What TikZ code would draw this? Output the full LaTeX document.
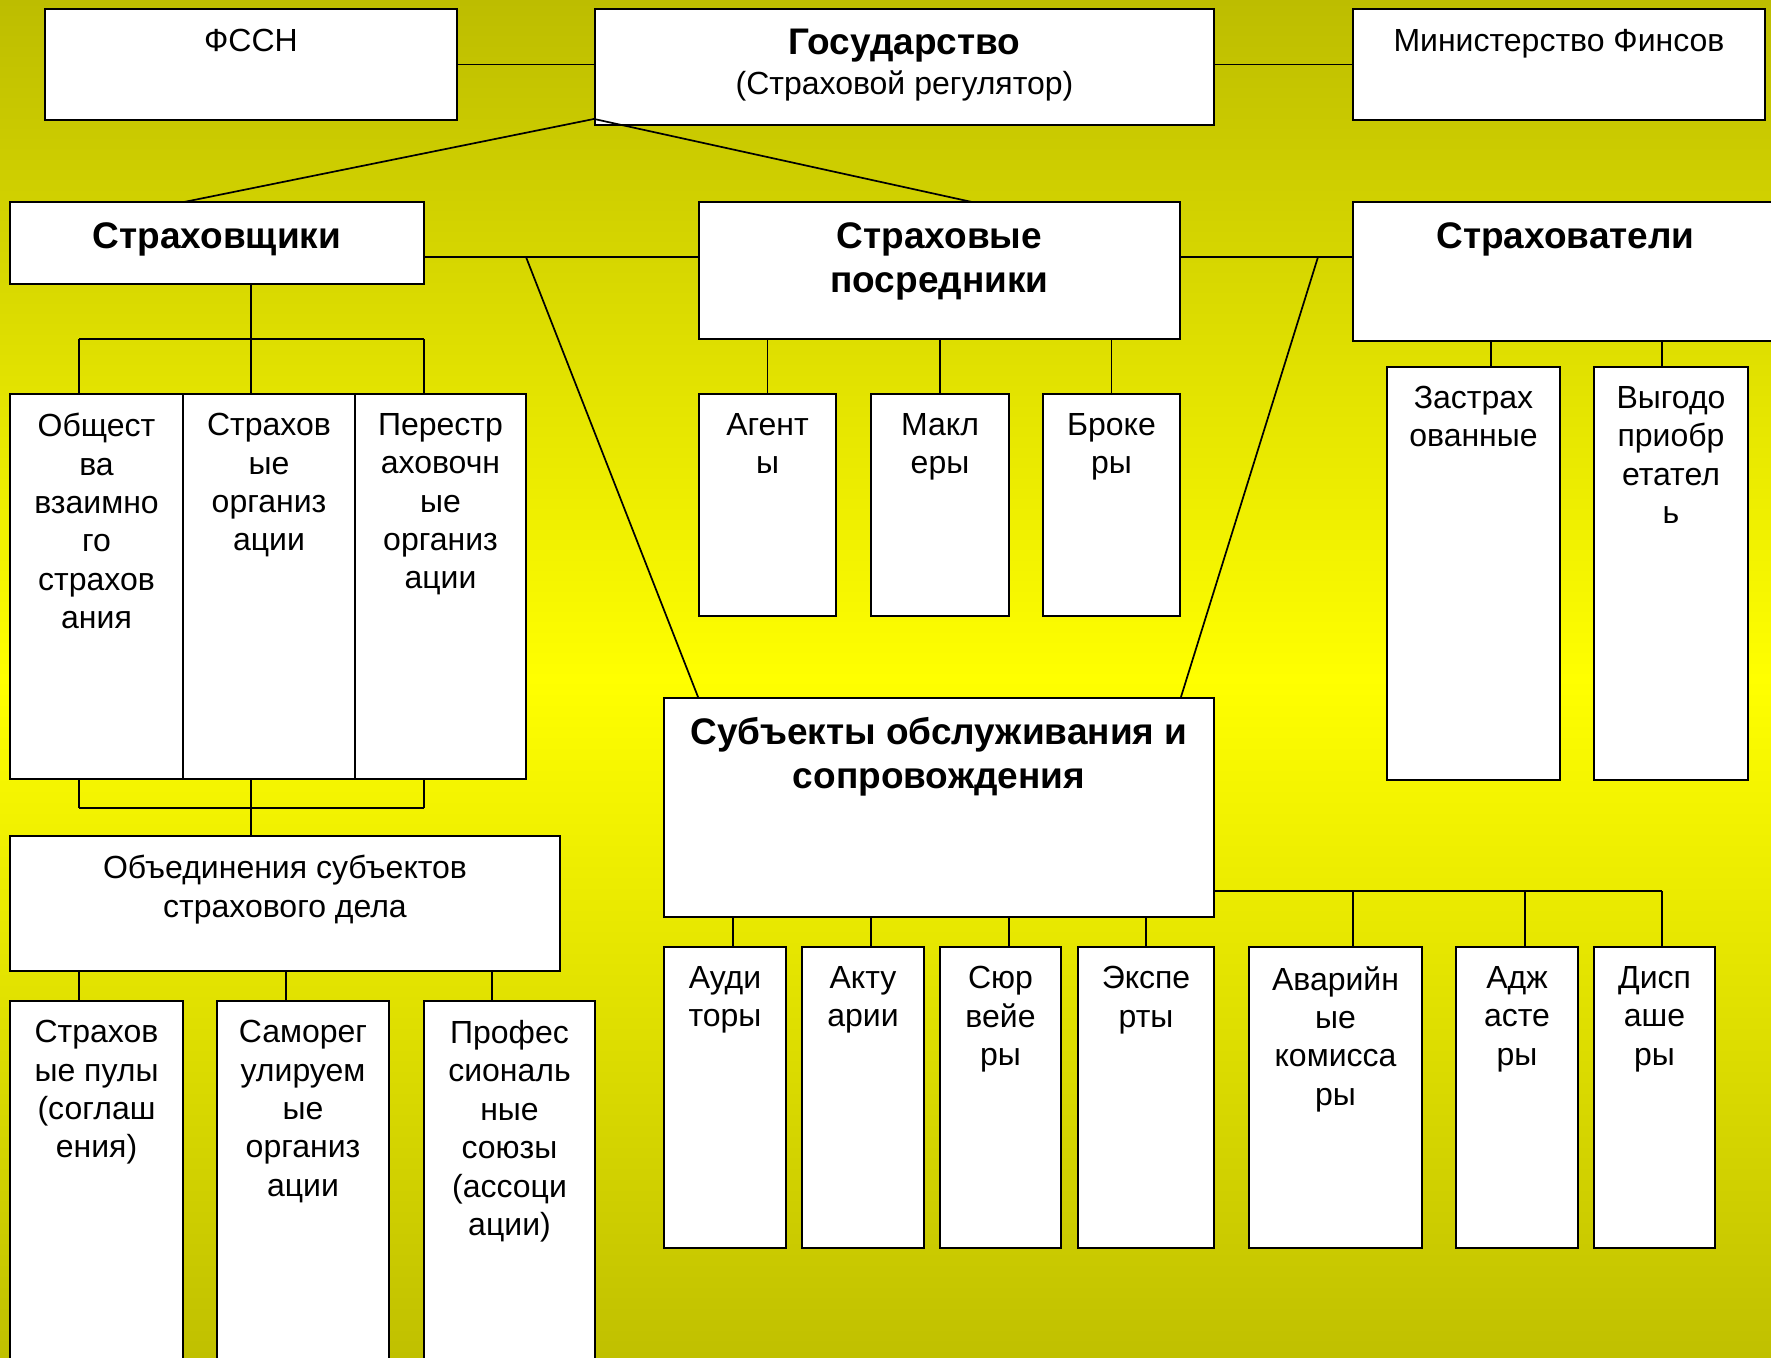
\documentclass[tikz,border=0pt]{standalone}
\usepackage{fontspec}
\setmainfont{Liberation Sans}
\usetikzlibrary{fit,calc}
\definecolor{bgtop}{RGB}{189,189,0}
\definecolor{bgmid}{RGB}{255,255,0}
\definecolor{bgbot}{RGB}{192,192,0}
\begin{document}
\begin{tikzpicture}[x=1pt,y=-1pt,
  box/.style={draw=black, line width=1.9pt, fill=white, inner sep=0pt},
  conn/.style={draw=black, line width=1.7pt},
  txt/.style={font=\fontsize{32}{38.4}\selectfont, align=center, inner sep=0pt, anchor=north},
  btxt/.style={font=\fontsize{37}{44.5}\selectfont\bfseries, align=center, inner sep=0pt, anchor=north}]
\shade[top color=bgtop, bottom color=bgbot, middle color=bgmid] (0,0) rectangle (1771,1357);
\useasboundingbox (0,0) rectangle (1771,1357);

% boxes
\node[box, fit={(45,9)(457,120)}] (fssn) {};
\node[box, fit={(595,9)(1214,125)}] (gos) {};
\node[box, fit={(1353,9)(1765,120)}] (minfin) {};
\node[box, fit={(10,202)(424,284)}] (strsh) {};
\node[box, fit={(699,202)(1180,339)}] (posr) {};
\node[box, fit={(1353,202)(1778,341)}] (strvt) {};
\node[box, fit={(10,394)(183,779)}] (obsh) {};
\node[box, fit={(183,394)(355,779)}] (strorg) {};
\node[box, fit={(355,394)(526,779)}] (perestr) {};
\node[box, fit={(699,394)(836,616)}] (agent) {};
\node[box, fit={(871,394)(1009,616)}] (makl) {};
\node[box, fit={(1043,394)(1180,616)}] (brok) {};
\node[box, fit={(1387,367)(1560,780)}] (zastr) {};
\node[box, fit={(1594,367)(1748,780)}] (vygod) {};
\node[box, fit={(664,698)(1214,917)}] (subj) {};
\node[box, fit={(10,836)(560,971)}] (obed) {};
\node[box, fit={(10,1001)(183,1365)}] (pul) {};
\node[box, fit={(217,1001)(389,1365)}] (samor) {};
\node[box, fit={(424,1001)(595,1365)}] (prof) {};
\node[box, fit={(664,947)(786,1248)}] (audit) {};
\node[box, fit={(802,947)(924,1248)}] (aktu) {};
\node[box, fit={(940,947)(1061,1248)}] (syur) {};
\node[box, fit={(1078,947)(1214,1248)}] (eksp) {};
\node[box, fit={(1249,947)(1422,1248)}] (avar) {};
\node[box, fit={(1456,947)(1578,1248)}] (adzh) {};
\node[box, fit={(1594,947)(1715,1248)}] (disp) {};

% helper coordinates
\coordinate (gosL) at ($(gos.south west)+(0,-7)$);
\coordinate (shTop) at (184,202);
\coordinate (poTop) at (972,202);
\coordinate (midL) at (526,257);
\coordinate (midR) at (1318,257);
\coordinate (sBus1) at (79,339);
\coordinate (sBus2) at (251,339);
\coordinate (sBus3) at (424,339);
\coordinate (bBus1) at (79,808);
\coordinate (bBus2) at (251,808);
\coordinate (bBus3) at (424,808);
\coordinate (rBus) at (1662,891);

% top row
\draw[conn] (fssn.east) -- (fssn.east -| gos.west);
\draw[conn] (gos.east |- minfin.west) -- (minfin.west);
\draw[conn] (gosL) -- (shTop);
\draw[conn] (gosL) -- (poTop);
% middle row
\draw[conn] (strsh.north east |- midL) -- (posr.west |- midL);
\draw[conn] (posr.east |- midR) -- (strvt.west |- midR);
\draw[conn] (midL) -- (posr.west |- subj.north);
\draw[conn] (midR) -- (posr.east |- subj.north);
% insurers tree
\draw[conn] (strsh.south -| sBus2) -- (sBus2);
\draw[conn] (sBus1) -- (sBus3);
\draw[conn] (sBus1) -- (sBus1 |- obsh.north);
\draw[conn] (sBus2) -- (sBus2 |- strorg.north);
\draw[conn] (sBus3) -- (sBus3 |- perestr.north);
\draw[conn] (bBus1 |- obsh.south) -- (bBus1);
\draw[conn] (bBus2 |- strorg.south) -- (bBus2);
\draw[conn] (bBus3 |- perestr.south) -- (bBus3);
\draw[conn] (bBus1) -- (bBus3);
\draw[conn] (bBus2) -- (bBus2 |- obed.north);
\draw[conn] (obed.south -| 79,0) -- (pul.north -| 79,0);
\draw[conn] (obed.south -| 286,0) -- (samor.north -| 286,0);
\draw[conn] (obed.south -| 492,0) -- (prof.north -| 492,0);
% intermediaries
\draw[conn] (posr.south -| agent.north) -- (agent.north);
\draw[conn] (posr.south -| makl.north) -- (makl.north);
\draw[conn] (posr.south -| brok.north) -- (brok.north);
% policyholders
\draw[conn] (strvt.south -| 1491,0) -- (zastr.north -| 1491,0);
\draw[conn] (strvt.south -| 1662,0) -- (vygod.north -| 1662,0);
% service subjects
\draw[conn] (subj.south -| 733,0) -- (audit.north -| 733,0);
\draw[conn] (subj.south -| 871,0) -- (aktu.north -| 871,0);
\draw[conn] (subj.south -| 1009,0) -- (syur.north -| 1009,0);
\draw[conn] (subj.south -| 1146,0) -- (eksp.north -| 1146,0);
\draw[conn] (subj.east |- rBus) -- (rBus);
\draw[conn] (rBus -| 1353,0) -- (avar.north -| 1353,0);
\draw[conn] (rBus -| 1525,0) -- (adzh.north -| 1525,0);
\draw[conn] (rBus) -- (disp.north -| rBus);

% texts
\node[txt] (fssnT) at ($(fssn.north)+(0,21)$) {ФССН};
\node[btxt] (gosT) at ($(gos.north)+(0,21)$) {Государство};
\node[txt] (gosS) at ($(gos.north)+(0,62)$) {(Страховой регулятор)};
\node[txt] (minfinT) at ($(minfin.north)+(0,21)$) {Министерство Финсов};
\node[btxt] (strshT) at ($(strsh.north)+(0,21)$) {Страховщики};
\node[btxt] (posrT) at ($(posr.north)+(0,21)$) {Страховые\\посредники};
\node[btxt] (strvtT) at ($(strvt.north)+(0,21)$) {Страхователи};
\node[txt] (obshT) at ($(obsh.north)+(0,20)$) {Общест\\ва\\взаимно\\го\\страхов\\ания};
\node[txt] (strorgT) at ($(strorg.north)+(0,20)$) {Страхов\\ые\\организ\\ации};
\node[txt] (perestrT) at ($(perestr.north)+(0,20)$) {Перестр\\аховочн\\ые\\организ\\ации};
\node[txt] (agentT) at ($(agent.north)+(0,20)$) {Агент\\ы};
\node[txt] (maklT) at ($(makl.north)+(0,20)$) {Макл\\еры};
\node[txt] (brokT) at ($(brok.north)+(0,20)$) {Броке\\ры};
\node[txt] (zastrT) at ($(zastr.north)+(0,20)$) {Застрах\\ованные};
\node[txt] (vygodT) at ($(vygod.north)+(0,20)$) {Выгодо\\приобр\\етател\\ь};
\node[btxt] (subjT) at ($(subj.north)+(0,20)$) {Субъекты обслуживания и\\сопровождения};
\node[txt] (obedT) at ($(obed.north)+(0,20)$) {Объединения субъектов\\страхового дела};
\node[txt] (pulT) at ($(pul.north)+(0,20)$) {Страхов\\ые пулы\\(соглаш\\ения)};
\node[txt] (samorT) at ($(samor.north)+(0,20)$) {Саморег\\улируем\\ые\\организ\\ации};
\node[txt] (profT) at ($(prof.north)+(0,20)$) {Профес\\сиональ\\ные\\союзы\\(ассоци\\ации)};
\node[txt] (auditT) at ($(audit.north)+(0,20)$) {Ауди\\торы};
\node[txt] (aktuT) at ($(aktu.north)+(0,20)$) {Акту\\арии};
\node[txt] (syurT) at ($(syur.north)+(0,20)$) {Сюр\\вейе\\ры};
\node[txt] (ekspT) at ($(eksp.north)+(0,20)$) {Экспе\\рты};
\node[txt] (avarT) at ($(avar.north)+(0,20)$) {Аварийн\\ые\\комисса\\ры};
\node[txt] (adzhT) at ($(adzh.north)+(0,20)$) {Адж\\асте\\ры};
\node[txt] (dispT) at ($(disp.north)+(0,20)$) {Дисп\\аше\\ры};
\end{tikzpicture}
\end{document}
